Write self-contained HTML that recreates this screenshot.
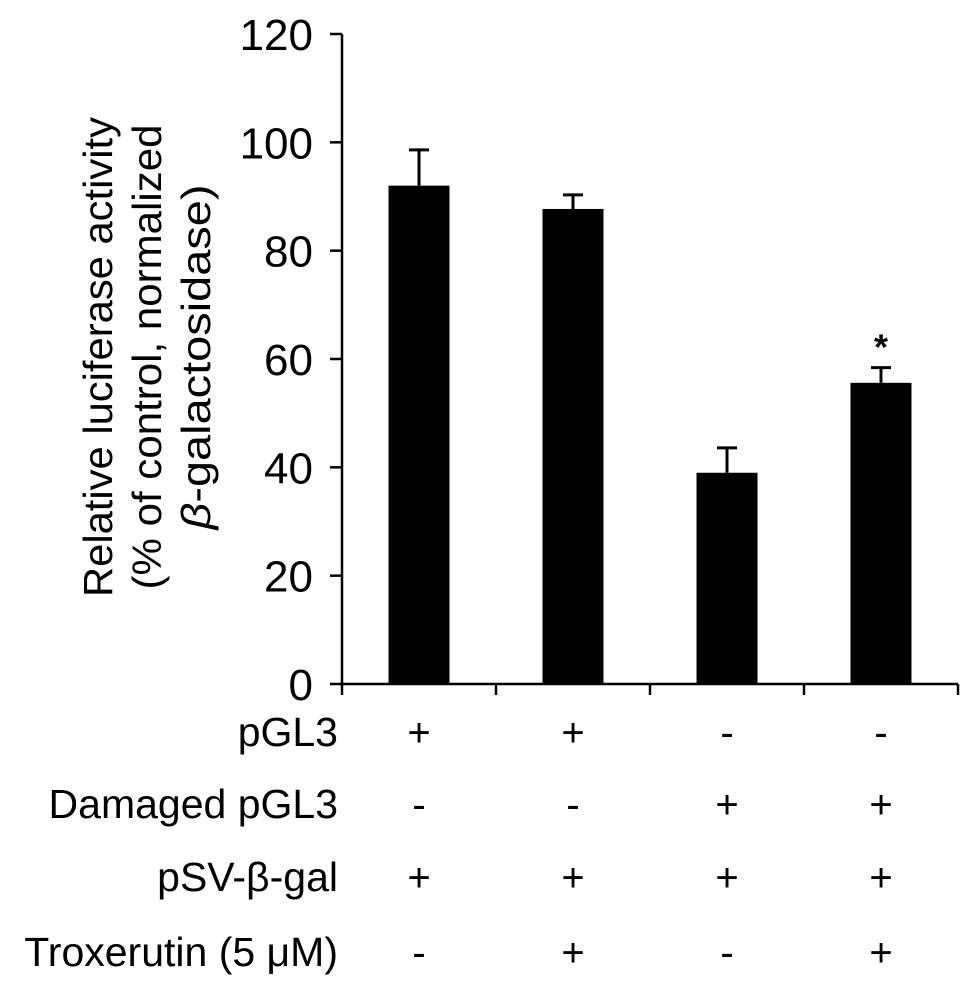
<!DOCTYPE html>
<html><head><meta charset="utf-8"><style>
body{margin:0;background:#fff;}
svg{display:block;font-family:"Liberation Sans",Arial,sans-serif;}
</style></head><body>
<svg id="chart" width="969" height="991" viewBox="0 0 969 991">
<g id="g"></g>
</svg>
<script>
const categories=["g1","g2","g3","g4"];
const values=[92,87.7,39,55.6];
const errors=[6.6,2.6,4.6,2.8];
const yTicks=[0,20,40,60,80,100,120];
const rowLabels=["pGL3","Damaged pGL3","pSV-β-gal","Troxerutin (5 μM)"];
const rowSigns=[["+","+","-","-"],["-","-","+","+"],["+","+","+","+"],["-","+","-","+"]];
const sig=[false,false,false,true];

const NS="http://www.w3.org/2000/svg";
const g=document.getElementById('g');
const x0=342,x1=958,y0=684,yTop=34,yMax=120;
const y=v=>y0-(v/yMax)*(y0-yTop);
const band=(x1-x0)/categories.length;
const cx=i=>x0+band*(i+0.5);
const bw=61;
function mk(t,a,txt){const e=document.createElementNS(NS,t);for(const k in a)e.setAttribute(k,a[k]);if(txt!=null)e.textContent=txt;g.appendChild(e);return e;}

let e=mk('line',{x1:x0,y1:y(yMax),x2:x0,y2:y0+1,stroke:'#000','stroke-width':2.5});

e=mk('line',{x1:x0-1,y1:y0,x2:x1,y2:y0,stroke:'#000','stroke-width':2.5});

yTicks.forEach(t=>{
 e=mk('line',{x1:x0-12,y1:y(t),x2:x0,y2:y(t),stroke:'#000','stroke-width':2.5});
 
 e=mk('text',{x:313,y:y(t)+16,'text-anchor':'end','font-size':44},t);
 
});
for(let i=0;i<=categories.length;i++){
 e=mk('line',{x1:x0+band*i,y1:y0,x2:x0+band*i,y2:y0+11,stroke:'#000','stroke-width':2.5});
 
}
categories.forEach((c,i)=>{
 const c0=cx(i);
 e=mk('line',{x1:c0,y1:y(values[i]+errors[i]),x2:c0,y2:y(values[i]),stroke:'#000','stroke-width':3});
 
 e=mk('line',{x1:c0-10,y1:y(values[i]+errors[i]),x2:c0+10,y2:y(values[i]+errors[i]),stroke:'#000','stroke-width':3});
 
 e=mk('rect',{x:c0-bw/2,y:y(values[i]),width:bw,height:y0-y(values[i]),fill:'#000'});
 
 if(sig[i]){e=mk('text',{x:c0,y:y(values[i]+errors[i])-8,'text-anchor':'middle','font-size':36,'font-weight':'bold'},'*');
 }
});
const rowY=[746,818,891,966];
rowLabels.forEach((l,r)=>{
 e=mk('text',{x:338,y:rowY[r],'text-anchor':'end','font-size':41},l);
 
 rowSigns[r].forEach((s,i)=>{
  e=mk('text',{x:cx(i),y:rowY[r],'text-anchor':'middle','font-size':40},s);
  
 });
});
const lt=mk('text',{transform:'translate(0,357) rotate(-90)','text-anchor':'middle','font-size':41});

[["Relative luciferase activity",112,480],["(% of control, normalized",161,465]].forEach(([t,dy,len])=>{
 const s=document.createElementNS(NS,'tspan');s.setAttribute('x',0);s.setAttribute('y',dy);
 s.setAttribute('textLength',len);s.setAttribute('lengthAdjust','spacingAndGlyphs');
 s.textContent=t;lt.appendChild(s);
});
const lt3=mk('text',{transform:'translate(0,357) rotate(-90)','text-anchor':'middle','font-size':41,textLength:345,lengthAdjust:'spacingAndGlyphs'});

lt3.setAttribute('x',0);lt3.setAttribute('y',210);
const it=document.createElementNS(NS,'tspan');it.setAttribute('font-style','italic');it.textContent='β';
lt3.appendChild(it);lt3.appendChild(document.createTextNode('-galactosidase)'));
</script>
</body></html>
